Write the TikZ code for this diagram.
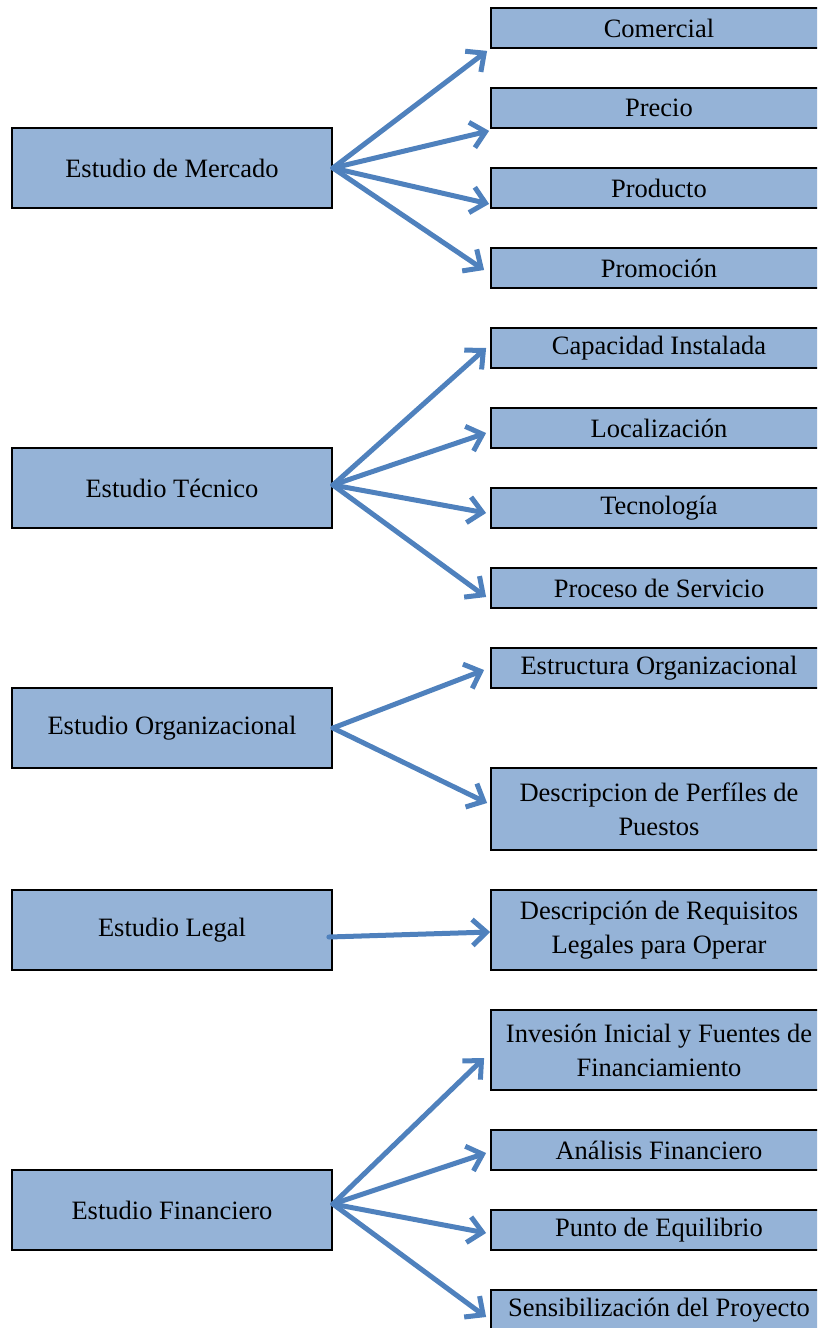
\documentclass[tikz,border=0pt]{standalone}
\usepackage{fontspec}
\setmainfont{Liberation Serif}
\usetikzlibrary{arrows.meta,calc}
\definecolor{boxfill}{RGB}{149,179,215}
\definecolor{arrowblue}{RGB}{79,129,189}
\begin{document}
\begin{tikzpicture}[x=1pt,y=-1pt,
  basebox/.style={draw=black, line width=1.8pt, fill=boxfill, inner sep=0pt,
    align=center, font=\fontsize{26.5}{34}\selectfont},
  studybox/.style={basebox, minimum width=320pt, minimum height=80pt},
  topicbox/.style={basebox, minimum width=336pt, minimum height=40pt},
  tallbox/.style={basebox, minimum width=336pt, minimum height=80pt},
  link/.style={draw=arrowblue, line width=5pt, line cap=round, line join=round,
    -{Straight Barb[length=14pt,width=26pt]}}]
\useasboundingbox (0,0) rectangle (817,1328);
\clip (0,0) rectangle (817,1328);

% study areas (left column)
\node[studybox] (mer) at (172,168)  {Estudio de Mercado};
\node[studybox] (tec) at (172,488)  {Estudio Técnico};
\node[studybox] (org) at (172,728)  {Estudio Organizacional};
\node[studybox] (leg) at (172,930)  {Estudio Legal};
\node[studybox] (fin) at (172,1210) {Estudio Financiero};

% topics (right column)
\node[topicbox] (com)  at (659,28)   {Comercial};
\node[topicbox] (pre)  at (659,108)  {Precio};
\node[topicbox] (prod) at (659,188)  {Producto};
\node[topicbox] (prom) at (659,268)  {Promoción};

\node[topicbox] (cap)  at (659,348)  {Capacidad Instalada};
\node[topicbox] (loc)  at (659,428)  {Localización};
\node[topicbox] (tcn)  at (659,508)  {Tecnología};
\node[topicbox] (proc) at (659,588)  {Proceso de Servicio};

\node[topicbox] (est)  at (659,668)  {Estructura Organizacional};
\node[basebox, minimum width=336pt, minimum height=82pt] (per) at (659,809)
  {Descripcion de Perfíles de\\Puestos};

\node[tallbox] (req)  at (659,930)  {Descripción de Requisitos\\Legales para Operar};

\node[tallbox] (inv)  at (659,1050) {Invesión Inicial y Fuentes de\\Financiamiento};
\node[topicbox] (ana) at (659,1150) {Análisis Financiero};
\node[topicbox] (pun) at (659,1230) {Punto de Equilibrio};
\node[topicbox] (sen) at (659,1310) {Sensibilización del Proyecto};

% connectors
\draw[link] (mer.east) -- ($(com.south west)+(-3,2)$);
\draw[link] (mer.east) -- ($(pre.south west)+(-1,2)$);
\draw[link] (mer.east) -- ($(prod.south west)+(-1,-5)$);
\draw[link] (mer.east) -- ($(prom.west)+(-6,2)$);

\draw[link] ($(tec.east)+(0,-3)$) -- ($(cap.west)+(-4,0)$);
\draw[link] ($(tec.east)+(0,-3)$) -- ($(loc.west)+(-4,5)$);
\draw[link] ($(tec.east)+(0,-3)$) -- ($(tcn.west)+(-4,5)$);
\draw[link] ($(tec.east)+(0,-3)$) -- ($(proc.west)+(-4,9)$);

\draw[link] (org.east) -- ($(est.west)+(-6,2)$);
\draw[link] (org.east) -- ($(per.west)+(-3,-6)$);

\draw[link] ($(leg.east)+(-4,7)$) -- ($(req.west)+(0,2)$);

\draw[link] ($(fin.east)+(0,-6)$) -- ($(inv.west)+(-6,8)$);
\draw[link] ($(fin.east)+(0,-6)$) -- ($(ana.west)+(-4,3)$);
\draw[link] ($(fin.east)+(0,-6)$) -- ($(pun.west)+(-4,3)$);
\draw[link] ($(fin.east)+(0,-6)$) -- ($(sen.west)+(-4,7)$);
\end{tikzpicture}
\end{document}
